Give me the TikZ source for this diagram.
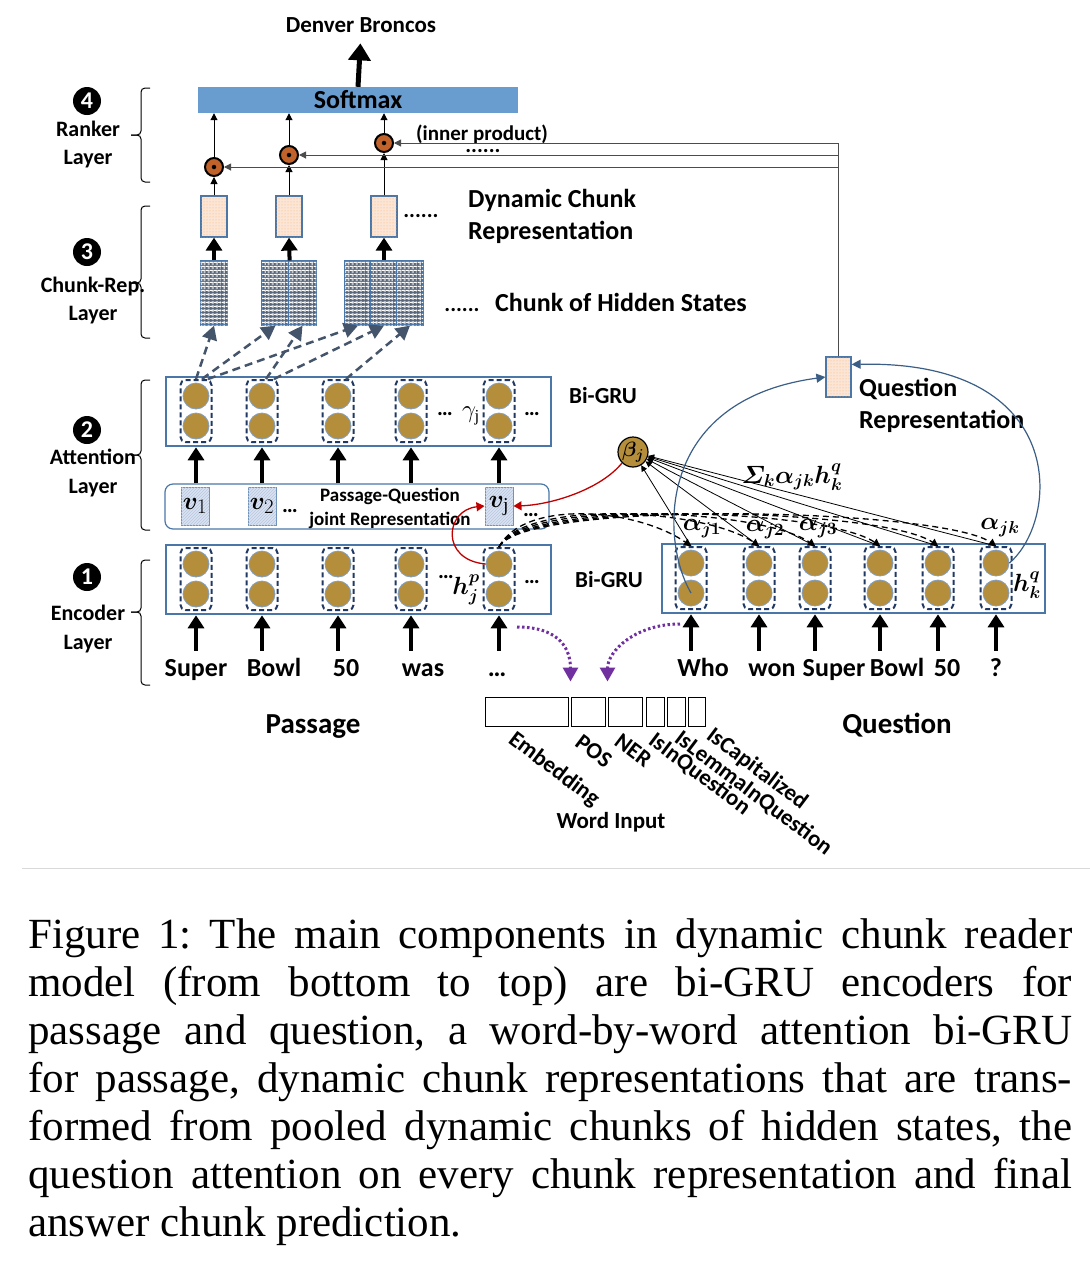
\documentclass[tikz,border=0pt]{standalone}
\usepackage{fontspec}
\setmainfont{Liberation Serif}
\setsansfont{Carlito}
\usepackage{amsmath}
\usepackage{bm}
\usetikzlibrary{arrows.meta,patterns,patterns.meta}

\definecolor{gruedge}{HTML}{4A76A8}
\definecolor{gold}{HTML}{B58E3C}
\definecolor{navy}{HTML}{1F3864}
\definecolor{smblue}{HTML}{6A9DCF}
\definecolor{dotorange}{HTML}{C0622A}
\definecolor{arrgray}{HTML}{44546A}
\definecolor{pqred}{HTML}{C00000}
\definecolor{wpurple}{HTML}{7030A0}
\definecolor{peach}{HTML}{FBE5D6}
\definecolor{vblue}{HTML}{DAE3F3}

\newcommand{\fsz}[1]{\fontsize{#1}{#1}\selectfont}

\begin{document}
\begin{tikzpicture}[x=1pt,y=-1pt,
    txt/.style={font=\sffamily\bfseries\fsz{26},inner sep=0,anchor=base},
    lablittle/.style={font=\sffamily\bfseries\fsz{22},inner sep=0,anchor=base},
    word/.style={txt,text height=18,text depth=5},
    grubox/.style={draw=gruedge,line width=2.5pt,minimum width=385,minimum height=69,inner sep=0},
    cell/.style={draw=navy,line width=2pt,dash pattern=on 5pt off 3pt,rounded corners=5,minimum width=31,minimum height=62,inner sep=0},
    gruunit/.style={circle,fill=gold,draw=gruedge!70,line width=0.8pt,minimum size=26,inner sep=0},
    reprbox/.style={draw=gruedge,line width=1.2pt,fill=peach,postaction={pattern=dots,pattern color=orange!60},minimum width=26,minimum height=41,inner sep=0},
    hidbox/.style={draw=gruedge,line width=1.2pt,fill=arrgray!90,
        postaction={pattern={Lines[angle=0,distance=4pt,line width=1.5pt]},pattern color=white},
        postaction={pattern={Lines[angle=90,distance=4pt,line width=1.5pt]},pattern color=white!85!arrgray},
        minimum width=27,minimum height=64,inner sep=0},
    vbox/.style={draw=gruedge!80,line width=1pt,fill=vblue,postaction={pattern=north east lines,pattern color=gruedge!40},minimum width=28,minimum height=38,inner sep=0,font=\fsz{28}},
    odot/.style={circle,fill=dotorange,draw=black,line width=2pt,minimum size=18,inner sep=0},
    numdot/.style={circle,fill=black,text=white,font=\sffamily\bfseries\fsz{24},minimum size=28,inner sep=0},
    feat/.style={draw=black,line width=1pt,minimum height=29,inner sep=0},
    featlab/.style={font=\sffamily\bfseries\fsz{23},inner sep=0,rotate=-37,anchor=north west},
    bigarrow/.style={line width=4pt,-{Triangle[length=13pt,width=16pt]}},
    thinarrow/.style={line width=1pt,-{Triangle[length=7pt,width=7pt]}},
    qline/.style={draw=black!70,line width=1pt,-{Triangle[length=7pt,width=7pt]}},
    chunkarrow/.style={draw=arrgray,line width=2.5pt,dash pattern=on 8pt off 5pt,-{Triangle[length=14pt,width=15pt]}},
    alphaarrow/.style={line width=1.3pt,dash pattern=on 6pt off 4pt,-{Triangle[length=7pt,width=8pt]}},
    betaline/.style={line width=0.8pt,-{Triangle[length=6pt,width=6pt]}},
    redarrow/.style={draw=pqred,line width=1.3pt,-{Triangle[length=8pt,width=9pt]}},
    purplearrow/.style={draw=wpurple,line width=3pt,dash pattern=on 2.5pt off 2.5pt,-{Triangle[length=14pt,width=15pt]}},
    qarrow/.style={draw=gruedge!80!black,line width=1.2pt,-{Triangle[length=9pt,width=9pt]}}]

\useasboundingbox (0,0) rectangle (1090,1270);

% layer labels and braces
\node[numdot] (n4) at (87,101) {4};
\node[lablittle] (l4a) at (88,136) {Ranker};
\node[lablittle] (l4b) at (88,164) {Layer};
\node[numdot] (n3) at (87,252) {3};
\node[lablittle] (l3a) at (93,292) {Chunk-Rep.};
\node[lablittle] (l3b) at (93,320) {Layer};
\node[numdot] (n2) at (87,430) {2};
\node[lablittle] (l2a) at (93,464) {Attention};
\node[lablittle] (l2b) at (93,493) {Layer};
\node[numdot] (n1) at (87,577) {1};
\node[lablittle] (l1a) at (88,620) {Encoder};
\node[lablittle] (l1b) at (88,649) {Layer};

\foreach \t/\m/\b in {88/135/182,206/283/338,380/455/530,560/612/685} {
    \draw[rounded corners=4,line width=1pt] (150,\t) -- (141,\t) -- (141,\m) -- (131,\m);
    \draw[rounded corners=4,line width=1pt] (131,\m) -- (141,\m) -- (141,\b) -- (150,\b);
}

% ranker layer
\node[fill=smblue,minimum width=320,minimum height=26,inner sep=0,font=\sffamily\bfseries\fsz{26}] (sm) at (358,100) {Softmax};
\node[txt,font=\sffamily\bfseries\fsz{23}] (ans) at (361,32) {Denver Broncos};
\draw[line width=5pt,-{Triangle[length=17pt,width=22pt]},shorten >=11pt] (sm.north) -- (ans.south);

\node[odot] (r1) at (214,167) {};
\node[odot] (r2) at (289,155) {};
\node[odot] (r3) at (384,143) {};
\foreach \i in {1,2,3}
    \node[circle,fill=black,inner sep=0,minimum size=4.5] (rc\i) at (r\i) {};
\node[lablittle,font=\sffamily\bfseries\fsz{21}] (ip) at (482,140) {(inner product)};
\node[lablittle] (ipdots) at (483,152) {......};

% chunk representation layer
\foreach \x [count=\i] in {214,289,384}
    \node[reprbox] (cr\i) at (\x,216.5) {};
\node[lablittle] (crdots) at (421,217) {......};
\node[txt,anchor=base west] (dcr1) at (468,207) {Dynamic Chunk};
\node[txt,anchor=base west] (dcr2) at (468,239) {Representation};

\node[hidbox] (hs1) at (214,293) {};
\node[hidbox] (hs2a) at (275.5,293) {};
\node[hidbox] (hs2b) at (302.5,293) {};
\node[hidbox,minimum width=26] (hs3a) at (358,293) {};
\node[hidbox,minimum width=26] (hs3b) at (384,293) {};
\node[hidbox,minimum width=26] (hs3c) at (410,293) {};
\node[lablittle] (hsdots) at (462,311) {......};
\node[txt,anchor=base west] (hsl) at (495,311) {Chunk of Hidden States};

\foreach \i in {1,2,3} {
    \draw[thinarrow] (r\i.north) -- (r\i.north |- sm.south);
    \draw[thinarrow] (cr\i.north) -- (r\i.south);
}
\draw[bigarrow] (hs1.north) -- (cr1.south);
\draw[bigarrow] (hs2a.north east) -- (cr2.south);
\draw[bigarrow] (hs3b.north) -- (cr3.south);

% attention layer
\node[grubox] (abox) at (358.5,411.5) {};
\node[grubox] (pbox) at (358.5,579.5) {};
\node[grubox,minimum width=383] (qbox) at (853.5,578.5) {};
\foreach \x [count=\i] in {196,262,338,411,499} {
    \node[cell] (ac\i) at (\x,411) {};
    \node[gruunit] (au\i) at (\x,396) {};
    \node[gruunit] (al\i) at (\x,426) {};
    \node[cell] (pc\i) at (\x,579) {};
    \node[gruunit] (pu\i) at (\x,564) {};
    \node[gruunit] (pl\i) at (\x,594) {};
}
\foreach \x [count=\i] in {691,759,815,880,938,996} {
    \node[cell] (qc\i) at (\x,578) {};
    \node[gruunit] (qu\i) at (\x,563) {};
    \node[gruunit] (ql\i) at (\x,593) {};
}
\node[txt,font=\sffamily\bfseries\fsz{23}] (agru) at (603,403) {Bi-GRU};
\node[lablittle] (adots1) at (445,415) {\ldots};
\node[inner sep=0,font=\fsz{24}] (gam) at (471,416) {$\gamma_{\mathrm{j}}$};
\node[lablittle] (adots2) at (532,415) {\ldots};

\node[draw=gruedge,line width=1.2pt,rounded corners=8,minimum width=384,minimum height=45,inner sep=0] (jbox) at (357,506.5) {};
\node[vbox] (v1) at (195,506) {$\bm{v}_1$};
\node[vbox] (v2) at (262,506) {$\bm{v}_2$};
\node[vbox] (vj) at (499,506) {$\bm{v}_{\mathrm{j}}$};
\node[lablittle] (vdots1) at (290,512) {\ldots};
\node[lablittle] (vdots2) at (531,516) {\ldots};
\node[txt,font=\sffamily\bfseries\fsz{19}] (pq1) at (390,501) {Passage-Question};
\node[txt,font=\sffamily\bfseries\fsz{19}] (pq2) at (390,525) {joint Representation};

\foreach \i in {1,2,3,4,5}
    \draw[bigarrow] (ac\i.south |- jbox.north) -- (ac\i.south |- abox.south);

\draw[chunkarrow] (ac1.north) -- (hs1.south);
\draw[chunkarrow] ([xshift=6pt]ac1.north) -- (hs2a.south);
\draw[chunkarrow] ([xshift=4pt]ac2.north) -- (hs2b.south);
\draw[chunkarrow] ([xshift=12pt]ac1.north) -- (hs3a.south);
\draw[chunkarrow] ([xshift=12pt]ac2.north) -- (hs3b.south);
\draw[chunkarrow] ([xshift=8pt]ac3.north) -- (hs3c.south);

% encoder layer
\node[txt,font=\sffamily\bfseries\fsz{23}] (pgru) at (609,587) {Bi-GRU};
\node[lablittle] (pdots1) at (446,578) {\ldots};
\node[inner sep=0,font=\fsz{26}] (hjp) at (466,590) {$\bm{h_j^p}$};
\node[lablittle] (pdots2) at (532,583) {\ldots};
\node[inner sep=0,font=\fsz{26}] (hkq) at (1027,585) {$\bm{h_k^q}$};

\foreach \w/\x [count=\i] in {Super/196,Bowl/274,50/346,was/423} {
    \node[word] (pw\i) at (\x,676) {\w};
    \draw[bigarrow,shorten <=7pt] (pc\i |- pw\i.north) -- (pc\i |- pbox.south);
}
\node[word] (pw5) at (497,676) {\ldots};
\draw[bigarrow,shorten <=7pt] (pc5 |- pw5.north) -- (pc5 |- pbox.south);
\foreach \w/\x [count=\i] in {Who/703,won/772,Super/834,Bowl/897,50/947,?/996} {
    \node[word] (qw\i) at (\x,676) {\w};
    \draw[bigarrow,shorten <=7pt] (qc\i |- qw\i.north) -- (qc\i |- qbox.south);
}
\node[txt,font=\sffamily\bfseries\fsz{29}] (plab) at (313,733) {Passage};
\node[txt,font=\sffamily\bfseries\fsz{29}] (qlab) at (897,733) {Question};

% question attention
\node[gruunit,draw=black,line width=1.2pt,minimum size=30,font=\fsz{20}] (beta) at (633,452) {$\bm{\beta_j}$};
\foreach \i in {1,2,3,4,5,6} {
    \draw[betaline] (qc\i.north) -- (beta);
    \draw[alphaarrow] (pc5.north) .. controls +(25,-48) and +(-55,-38) .. (qc\i.north);
}
\node[inner sep=0,font=\fsz{24}] (a1) at (702,529) {$\bm{\alpha_{j1}}$};
\node[inner sep=0,font=\fsz{24}] (a2) at (765,530) {$\bm{\alpha_{j2}}$};
\node[inner sep=0,font=\fsz{24}] (a3) at (818,529) {$\bm{\alpha_{j3}}$};
\node[inner sep=0,font=\fsz{24}] (ak) at (1000,528) {$\bm{\alpha_{jk}}$};
\node[inner sep=0,font=\fsz{24}] (sig) at (792,477) {$\bm{\varSigma_k\alpha_{jk}h_k^q}$};

\draw[redarrow] (beta.south west) .. controls (600,490) and (550,505) .. (vj.east);
\draw[redarrow] (pu5.west) .. controls (440,560) and (445,510) .. (vj.west);

% question representation
\node[reprbox,minimum width=25,minimum height=40] (qr) at (838.5,377) {};
\node[txt,anchor=base west] (qrl1) at (859,396) {Question};
\node[txt,anchor=base west] (qrl2) at (859,428) {Representation};
\draw[qarrow] (ql1.center) .. controls (660,540) and (655,400) .. (qr.west);
\draw[qarrow] (qu6.east) .. controls (1060,520) and (1070,360) .. ([yshift=-8pt]qr.north east);
\draw[qline] (qr.north) |- (r3.east);
\draw[qline] (qr.north |- r2) -- (r2.east);
\draw[qline] (qr.north |- r1) -- (r1.east);

% word input features
\node[feat,minimum width=83] (fe1) at (526.5,711.5) {};
\node[feat,minimum width=34] (fe2) at (588,711.5) {};
\node[feat,minimum width=34] (fe3) at (625,711.5) {};
\node[feat,minimum width=18] (fe4) at (655,711.5) {};
\node[feat,minimum width=18] (fe5) at (676,711.5) {};
\node[feat,minimum width=17] (fe6) at (696.5,711.5) {};
\node[featlab] (fl1) at (517,729) {Embedding};
\node[featlab] (fl2) at (583,733) {POS};
\node[featlab] (fl3) at (622,732) {NER};
\node[featlab] (fl4) at (657,730) {IsInQuestion};
\node[featlab] (fl5) at (683,728) {IsLemmaInQuestion};
\node[featlab] (fl6) at (715,725) {IsCapitalized};
\node[lablittle,font=\sffamily\bfseries\fsz{23}] (wi) at (611,828) {Word Input};

\draw[purplearrow] ([xshift=18pt,yshift=-16pt]pc5.south) .. controls +(45,0) and +(0,-30) .. ([yshift=15pt]fe2.north west);
\draw[purplearrow] ([xshift=-11pt,yshift=-14pt]qc1.south) .. controls +(-45,0) and +(0,-30) .. ([yshift=15pt]fe3.north west);

% caption
\draw[black!15,line width=1pt] (22,868) -- (1090,868);
\node[anchor=north west,text width=1044pt,align=justify,inner sep=0,font=\rmfamily\fontsize{43}{48}\selectfont] (cap) at (28,918) {\hyphenpenalty=10000\frenchspacing
Figure~1: The main components in dynamic chunk reader\linebreak
model (from bottom to top) are bi-GRU encoders for\linebreak
passage and question, a word-by-word attention bi-GRU\linebreak
for passage, dynamic chunk representations that are trans-\linebreak
formed from pooled dynamic chunks of hidden states, the\linebreak
question attention on every chunk representation and final\linebreak
answer chunk prediction.};

\end{tikzpicture}
\end{document}
